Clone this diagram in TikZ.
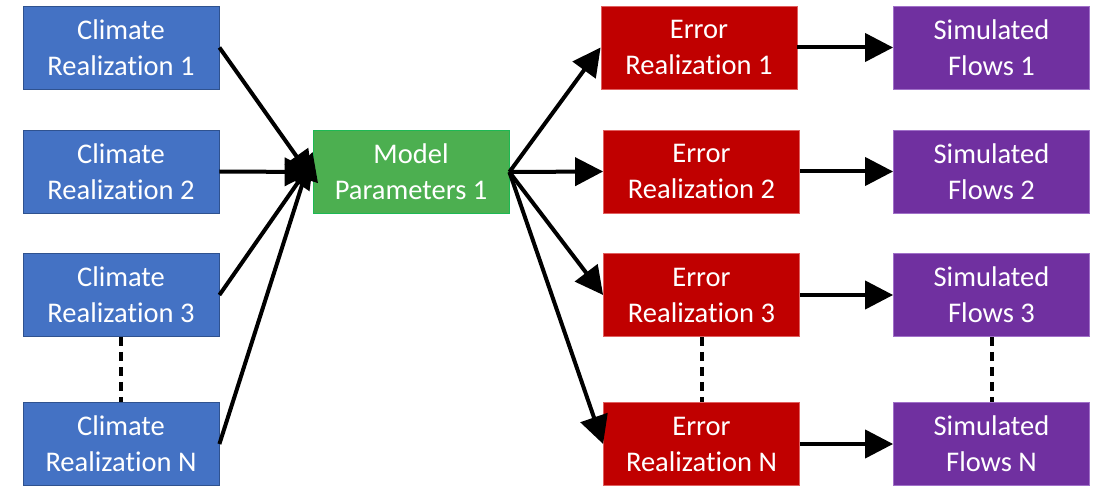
\documentclass[tikz,border=0pt]{standalone}
\usepackage{fontspec}
\setmainfont{Carlito}[Ligatures=NoCommon]
\usetikzlibrary{arrows.meta}
\definecolor{climblue}{HTML}{4472C4}
\definecolor{climedge}{HTML}{2F528F}
\definecolor{modgreen}{HTML}{4CAF50}
\definecolor{modedge}{HTML}{1DB954}
\definecolor{errred}{HTML}{C00000}
\definecolor{erredge}{HTML}{E06060}
\definecolor{flowpurple}{HTML}{7030A0}
\definecolor{flowedge}{HTML}{A070C8}
\tikzset{
  box/.style={rectangle, minimum width=196pt, minimum height=83pt, inner sep=0pt,
    align=center, text=white, line width=0.8pt,
    font=\fontsize{28.5pt}{36pt}\selectfont},
  climbox/.style={box, fill=climblue, draw=climedge},
  modbox/.style={box, fill=modgreen, draw=modedge},
  errbox/.style={box, fill=errred, draw=erredge},
  flowbox/.style={box, fill=flowpurple, draw=flowedge},
  link/.style={line width=4pt, -{Triangle[length=28pt,width=28pt]}},
  gap/.style={line width=4pt, dash pattern=on 9pt off 6pt}
}
\begin{document}
\begin{tikzpicture}[x=1pt,y=-1pt]
\useasboundingbox (0,0) rectangle (1094,486);
% climate realizations
\node[climbox] (c1) at (121,47.5) {Climate\\Realization 1};
\node[climbox] (c2) at (121,171.5) {Climate\\Realization 2};
\node[climbox] (c3) at (121,295) {Climate\\Realization 3};
\node[climbox] (cn) at (121,444) {Climate\\Realization N};
% model parameters
\node[modbox] (m) at (411,172) {Model\\Parameters 1};
% error realizations
\node[errbox] (e1) at (699,47.5) {Error\\Realization 1};
\node[errbox] (e2) at (701.5,171.5) {Error\\Realization 2};
\node[errbox] (e3) at (701.5,295) {Error\\Realization 3};
\node[errbox] (en) at (701.5,444) {Error\\Realization N};
% simulated flows
\node[flowbox] (f1) at (991.5,47.5) {Simulated\\Flows 1};
\node[flowbox] (f2) at (991.5,171.5) {Simulated\\Flows 2};
\node[flowbox] (f3) at (991.5,295) {Simulated\\Flows 3};
\node[flowbox] (fn) at (991.5,444) {Simulated\\Flows N};
% climate -> model
\draw[link] (c1.east) -- ([yshift=-7pt]m.west);
\draw[link] (c2.east) -- (m.west);
\draw[link] (c3.east) -- ([yshift=12pt,xshift=1pt]m.west);
\draw[link] (cn.east) -- ([yshift=20pt]m.west);
% model -> errors
\draw[link] (m.east) -- (e1.west);
\draw[link] (m.east) -- (e2.west);
\draw[link] (m.east) -- (e3.west);
\draw[link] (m.east) -- (en.west);
% errors -> flows
\draw[link] (e1.east) -- (f1.west);
\draw[link] (e2.east) -- (f2.west);
\draw[link] (e3.east) -- (f3.west);
\draw[link] (en.east) -- (fn.west);
% omitted realizations
\draw[gap] (c3.south) -- (cn.north);
\draw[gap] (e3.south) -- (en.north);
\draw[gap] (f3.south) -- (fn.north);
\end{tikzpicture}
\end{document}
